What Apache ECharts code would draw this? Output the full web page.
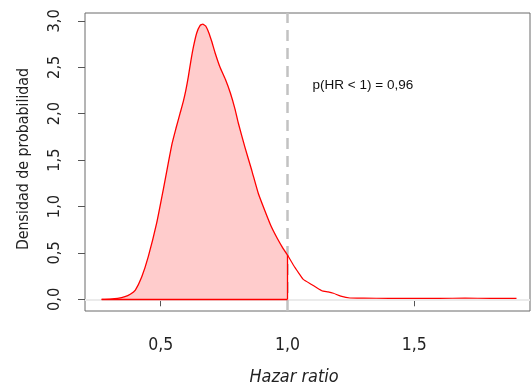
<!DOCTYPE html>
<html>
<head>
<meta charset="utf-8">
<script src="https://cdn.jsdelivr.net/npm/echarts@6/dist/echarts.min.js"></script>
<style>html,body{margin:0;padding:0;background:#fff}#c{width:531px;height:386px}</style>
</head>
<body>
<div id="c"></div>
<script>
// Density of hazard ratio, part at HR <= 1 (shaded)
var leftX = [0.267,0.30,0.33,0.359,0.38,0.40,0.425,0.451,0.484,0.510,0.530,0.545,0.560,0.576,0.589,0.599,0.609,0.619,0.629,0.642,0.655,0.666,0.677,0.690,0.701,0.714,0.734,0.755,0.775,0.793,0.806,0.832,0.859,0.885,0.910,0.935,0.960,0.980,1.0];
var leftY = [0,0.003,0.01,0.028,0.055,0.10,0.24,0.46,0.82,1.18,1.47,1.68,1.84,2.00,2.13,2.25,2.40,2.57,2.72,2.87,2.95,2.965,2.945,2.87,2.78,2.66,2.50,2.37,2.22,2.05,1.90,1.64,1.39,1.14,0.96,0.79,0.655,0.56,0.477];
// Density for HR >= 1 (tail)
var tailX = [1.0,1.023,1.045,1.062,1.095,1.135,1.16,1.181,1.21,1.246,1.30,1.40,1.50,1.60,1.70,1.80,1.903];
var tailY = [0.477,0.37,0.28,0.215,0.16,0.093,0.08,0.065,0.035,0.014,0.012,0.011,0.009,0.011,0.012,0.011,0.01];
var xTicks = [0.5,1.0,1.5];
var yTicks = [0,0.5,1,1.5,2,2.5,3];
var cutoff = 1.0;
var annotation = {x: 1.099, y: 2.31, text: 'p(HR < 1) = 0,96'};
var xTitle = 'Hazar ratio';
var yTitle = 'Densidad de probabilidad';

// ---- pick a narrow font that is actually installed ----
var ctx = document.createElement('canvas').getContext('2d');
function mw(font, text){ ctx.font = '10px serif'; ctx.font = font; return ctx.measureText(text).width; }
var probe = 'Densidad de probabilidad 0,5';
var baseMono = mw('100px monospace', probe);
var regular = mw("100px 'DejaVu Sans'", probe);
var FF = {fam: "'DejaVu Sans'", st: ''};
(function(){
  var c1 = ["'Liberation Sans Narrow'", "'DejaVu Sans Condensed'"];
  for (var i = 0; i < c1.length; i++) {
    if (Math.abs(mw('100px ' + c1[i] + ', monospace', probe) - baseMono) > 1) { FF = {fam: c1[i], st: ''}; return; }
  }
  ctx.font = '10px serif'; ctx.font = "condensed 100px 'DejaVu Sans'";
  if (ctx.font.indexOf('100px') >= 0 && ctx.measureText(probe).width < regular * 0.95) { FF = {fam: "'DejaVu Sans'", st: 'condensed'}; }
})();
function styleStr(italic){ var s = []; if (italic) s.push('italic'); if (FF.st) s.push(FF.st); return s.length ? s.join(' ') : 'normal'; }
function fitSize(text, targetW, capH, italic, wWeight){
  var w100 = mw(styleStr(italic) + ' normal 100px ' + FF.fam, text);
  var wFit = targetW * 100 / w100, hFit = capH / 0.73;
  return Math.round(Math.pow(wFit, wWeight) * Math.pow(hFit, 1 - wWeight) * 10) / 10;
}
var sxLab = fitSize('0,5', 23.5, 13, false, 0.2);
var syLab = fitSize('0,5', 19, 13, false, 0.3);
var syTit = fitSize(yTitle, 178, 14, false, 0.9);
var sxTit = fitSize(xTitle, 88, 15, true, 0.9);

function fmt(v){ return Number(v).toFixed(1).replace('.', ','); }

var areaData = leftX.map(function(x,i){ return [x, leftY[i]]; });
var tailData = tailX.map(function(x,i){ return [x, tailY[i]]; });
var lastY = leftY[leftY.length - 1];

var chart = echarts.init(document.getElementById('c'));
chart.setOption({
  animation: false,
  backgroundColor: '#fff',
  grid: {left: 85, right: 1, top: 13, bottom: 75, containLabel: false, outerBoundsMode: 'none', show: true, borderColor: '#6a6a6a', borderWidth: 1, backgroundColor: 'transparent'},
  xAxis: {
    type: 'value', min: 0.2015, max: 1.9562,
    name: xTitle, nameLocation: 'middle', nameGap: 66,
    nameTextStyle: {fontFamily: FF.fam, fontSize: sxTit, fontStyle: styleStr(true), color: '#222', verticalAlign: 'middle', padding: [0, 27, 0, 0]},
    axisLine: {show: false},
    splitLine: {show: false},
    axisTick: {show: true, length: 7, customValues: xTicks, lineStyle: {color: '#555'}},
    axisLabel: {customValues: xTicks, formatter: fmt, margin: 34, verticalAlign: 'middle', fontFamily: FF.fam, fontStyle: styleStr(false), fontSize: sxLab, color: '#222'}
  },
  yAxis: {
    type: 'value', min: -0.126, max: 3.085,
    name: yTitle, nameLocation: 'middle', nameGap: 61,
    nameTextStyle: {fontFamily: FF.fam, fontStyle: styleStr(false), fontSize: syTit, color: '#222', verticalAlign: 'middle', padding: [0, 0, 0, 6]},
    axisLine: {show: false},
    splitLine: {show: false},
    axisTick: {show: true, length: 7, customValues: yTicks, lineStyle: {color: '#555'}},
    axisLabel: {customValues: yTicks, formatter: fmt, rotate: 90, margin: 30, align: 'center', verticalAlign: 'middle', fontFamily: FF.fam, fontStyle: styleStr(false), fontSize: syLab, color: '#222'}
  },
  series: [
    {
      type: 'line', data: [], z: 1, silent: true,
      markLine: {
        z: 1, silent: true, symbol: 'none', label: {show: false},
        data: [
          {yAxis: 0, lineStyle: {color: '#ebebeb', width: 2, type: 'solid'}},
          {xAxis: cutoff, lineStyle: {color: '#c2c2c2', width: 2.5, type: [11, 7]}}
        ]
      }
    },
    {
      type: 'line', data: areaData, z: 3, symbol: 'none', smooth: 0.15,
      lineStyle: {color: '#ff0000', width: 1.3},
      areaStyle: {color: '#ffcccc', opacity: 1, origin: 0},
      markLine: {
        z: 4, silent: true, symbol: 'none', label: {show: false},
        lineStyle: {color: '#ff0000', width: 1.3, type: 'solid'},
        data: [
          [{coord: [leftX[0], 0]}, {coord: [cutoff, 0]}],
          [{coord: [cutoff, 0]}, {coord: [cutoff, lastY]}]
        ]
      }
    },
    {
      type: 'line', data: tailData, z: 3, symbol: 'none', smooth: 0.15,
      lineStyle: {color: '#ff0000', width: 1.2}
    }
  ]
});
var p = chart.convertToPixel({gridIndex: 0}, [annotation.x, annotation.y]);
chart.setOption({
  graphic: [{
    type: 'text', x: p[0], y: p[1],
    style: {text: annotation.text, fontFamily: "'Liberation Sans',Arial,sans-serif", fontSize: 13.5, fill: '#111', verticalAlign: 'middle', align: 'left'}
  }]
});
</script>
</body>
</html>
